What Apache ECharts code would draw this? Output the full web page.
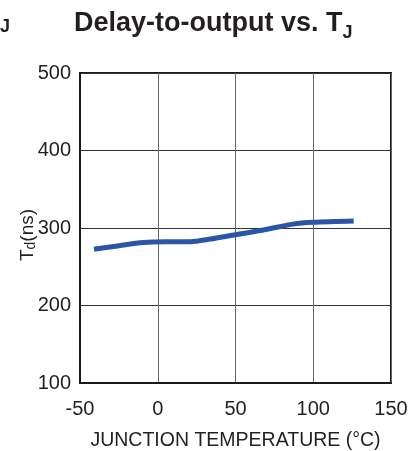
<!DOCTYPE html>
<html>
<head>
<meta charset="utf-8">
<script src="https://cdn.jsdelivr.net/npm/echarts@6/dist/echarts.min.js"></script>
<style>
html,body{margin:0;padding:0;background:#fff;}
#chart{width:412px;height:451px;}
</style>
</head>
<body>
<div id="chart"></div>
<script>
// Data
const temps = [-41, -24, -9, 5, 21, 34, 49, 68, 87, 100, 126];
const delays = [272.5, 277.5, 281.2, 282.2, 282.3, 285.8, 291, 297.4, 305, 307.3, 309];
const xTicks = [-50, 0, 50, 100, 150];
const yTicks = [100, 200, 300, 400, 500];
const titleText = 'Delay-to-output vs. T';
const xName = 'JUNCTION TEMPERATURE (°C)';

const font = '"Liberation Sans", Arial, Helvetica, sans-serif';
const textColor = '#231f20';

const chart = echarts.init(document.getElementById('chart'));
chart.setOption({
  animation: false,
  backgroundColor: '#fff',
  grid: {left: 80, right: 21, top: 73, bottom: 68, show: true, borderColor: '#1a1a1a', borderWidth: 2,
         outerBoundsMode: 'none', containLabel: false},
  xAxis: {
    type: 'value', min: xTicks[0], max: xTicks[xTicks.length - 1], interval: 50,
    axisLine: {show: true, onZero: false, lineStyle: {color: '#1a1a1a', width: 2}},
    axisTick: {show: false},
    splitLine: {show: true, lineStyle: {color: '#666', width: 1}},
    axisLabel: {color: textColor, fontSize: 20, fontFamily: font, margin: 16},
    name: xName, nameLocation: 'middle', nameGap: 48,
    nameTextStyle: {color: textColor, fontSize: 19.5, fontFamily: font}
  },
  yAxis: {
    type: 'value', min: yTicks[0], max: yTicks[yTicks.length - 1], interval: 100,
    axisLine: {show: true, onZero: false, lineStyle: {color: '#1a1a1a', width: 2}},
    axisTick: {show: false},
    splitLine: {show: true, lineStyle: {color: '#333', width: 1}},
    axisLabel: {color: textColor, fontSize: 20, fontFamily: font, margin: 9}
  },
  graphic: [
    {type: 'text', left: 74, top: 10, style: {text: '{t|' + titleText + '}{s|J}', rich: {
      t: {fontSize: 27, fontWeight: 'bold', fontFamily: font, fill: textColor, verticalAlign: 'bottom'},
      s: {fontSize: 18, fontWeight: 'bold', fontFamily: font, fill: textColor, verticalAlign: 'bottom', padding: [0, 0, -5, 0]}
    }}},
    {type: 'text', left: 0, top: 18, style: {text: 'J', fontSize: 18, fontWeight: 'bold', fontFamily: font, fill: textColor}},
    {type: 'text', x: 28, y: 235, rotation: Math.PI / 2, style: {
      text: '{a|T}{b|d}{a|(ns)}', align: 'center', verticalAlign: 'middle',
      rich: {
        a: {fontSize: 19, fontFamily: font, fill: textColor},
        b: {fontSize: 14, fontFamily: font, fill: textColor, padding: [6, 0, 0, 0]}
      }
    }}
  ],
  series: [{
    type: 'line', data: temps.map((t, i) => [t, delays[i]]),
    smooth: 0.3, showSymbol: false,
    lineStyle: {color: '#2b55a6', width: 5, cap: 'butt'}
  }]
});
</script>
</body>
</html>
